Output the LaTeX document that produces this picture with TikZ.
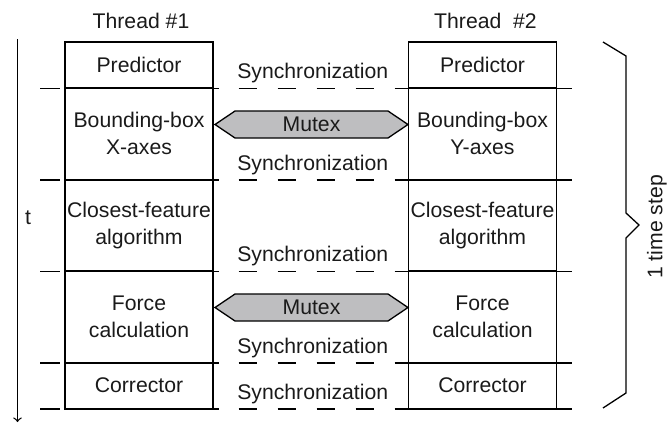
\documentclass[tikz,border=0pt]{standalone}
\usepackage{fontspec}
\setmainfont{Liberation Sans}
\usepackage{tikz}
\usetikzlibrary{arrows,calc,shapes.symbols}
\definecolor{mutexgray}{HTML}{BEBEC0}
\definecolor{inkgray}{HTML}{1A1A1A}

\begin{document}
\begin{tikzpicture}[x=0.5pt, y=-0.5pt,
  every node/.style={font=\fontsize{10.6}{13.5}\selectfont, text=inkgray},
  cell/.style={draw, line width=0.65pt, minimum width=74pt, inner sep=1pt, align=center},
  shortcell/.style={cell, minimum height=23pt},
  tallcell/.style={cell, minimum height=45.75pt},
  rowline/.style={line width=0.8pt},
  syncline/.style={line width=0.7pt, dash pattern=on 9pt off 10.5pt},
  mutex/.style={signal, signal to=west and east, signal pointer angle=68, draw, line width=0.65pt, fill=mutexgray, minimum width=96.5pt, minimum height=13.5pt, inner sep=0pt}]
\useasboundingbox (0,0) rectangle (669,424);
% thread titles
\node (thread1) at (141,21) {Thread \#1};
\node (thread2) at (485.5,21) {Thread~\ \#2};
% thread 1 column
\node[shortcell] (l1) at (139,65) {Predictor};
\node[tallcell] (l2) at (139,133.75) {Bounding-box\\X-axes};
\node[tallcell] (l3) at (139,225.25) {Closest-feature\\algorithm};
\node[tallcell] (l4) at (139,316.75) {Force\\calculation};
\node[shortcell] (l5) at (139,385.5) {Corrector};
% thread 2 column
\node[shortcell] (r1) at (482.5,65) {Predictor};
\node[tallcell] (r2) at (482.5,133.75) {Bounding-box\\Y-axes};
\node[tallcell] (r3) at (482.5,225.25) {Closest-feature\\algorithm};
\node[tallcell] (r4) at (482.5,316.75) {Force\\calculation};
\node[shortcell] (r5) at (482.5,385.5) {Corrector};
% row borders and synchronization points
\foreach \c in {1,...,5} {
  \draw[rowline] ($(l\c.south west)+(-24,0)$) -- ($(l\c.south west)+(-4,0)$);
  \draw[rowline] (l\c.south west) -- ($(l\c.south east)+(5,0)$);
  \draw[syncline] ($(l\c.south east)+(25,0)$) -- (r\c.south west);
  \draw[rowline] ($(r\c.south west)+(-8,0)$) -- ($(r\c.south east)+(15,0)$);
  \node[anchor=base] (sync\c) at ($(l\c.south east)!0.5!(r\c.south west)+(2,-10)$) {Synchronization};
}
% mutexes
\node[mutex] (mutex1) at (311.5,124.5) {Mutex};
\node[mutex] (mutex2) at (311.5,307.5) {Mutex};
% time axis
\coordinate (ttop) at (17.5,39);
\coordinate (tbot) at (17.5,422);
\draw[->, line width=0.65pt] (ttop) -- (tbot);
\node (tlabel) at (28,218) {t};
% time step brace
\draw[line width=0.65pt] (603,42) -- (626,56) -- (626,213) -- (639,225) -- (626,238) -- (626,393) -- (603,408);
\node[rotate=90] (steplabel) at (657,227) {1 time step};
\end{tikzpicture}
\end{document}
